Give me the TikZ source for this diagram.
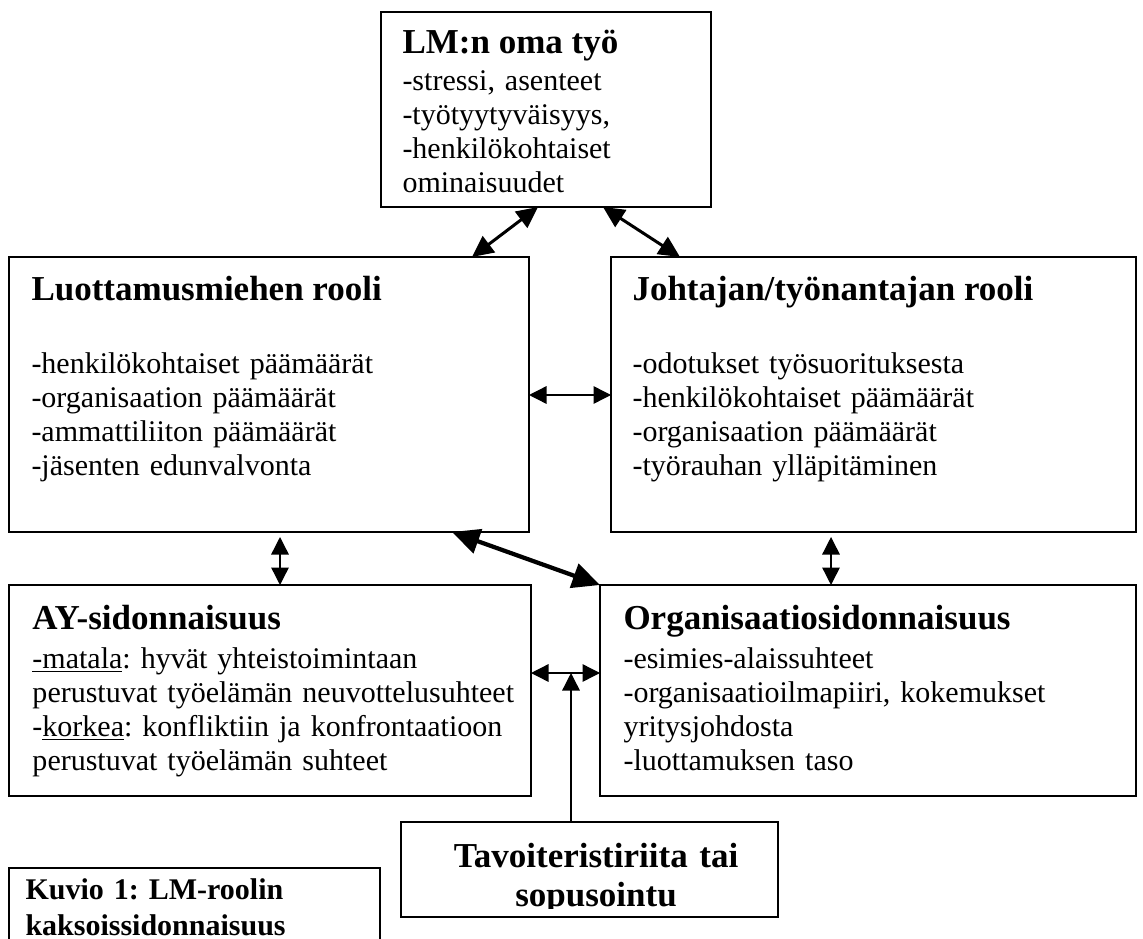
\documentclass[tikz,border=0pt]{standalone}
\usepackage{fontspec}
\setmainfont{Liberation Serif}
\usetikzlibrary{arrows.meta,positioning,calc,fit}
\frenchspacing

\begin{document}
\begin{tikzpicture}[x=0.4pt,y=-0.4pt,
    box/.style={draw,line width=0.65pt,inner sep=0pt,outer sep=0pt},
    head/.style={anchor=base west,inner sep=0pt,font=\fontsize{14}{16}\selectfont\bfseries},
    body/.style={anchor=base west,inner sep=0pt,text width=220pt,align=left,
        font=\fontsize{12}{13.6}\selectfont},
    smallarrow/.style={line width=0.55pt,>={Triangle[length=7pt,width=7pt]},<->},
    uparrow/.style={line width=0.55pt,>={Triangle[length=7pt,width=7pt]},->},
    midarrow/.style={line width=1.2pt,>={Triangle[length=8.5pt,width=8pt]},<->},
    bigarrow/.style={line width=1.7pt,>={Triangle[length=11pt,width=10pt]},<->}]
\useasboundingbox (0,0) rectangle (1143,938);
\clip (0,0) rectangle (1143,938);

% boxes
\node[box,fit={(381,12) (711,207)}] (lm) {};
\node[box,fit={(9,257) (529,532)}] (luot) {};
\node[box,fit={(611,257) (1136,532)}] (joht) {};
\node[box,fit={(9,585) (531,796)}] (ay) {};
\node[box,fit={(600,585) (1136,796)}] (org) {};
\node[box,fit={(401,822) (778,917)}] (tavo) {};
\node[box,fit={(9,868) (380,960)}] (kuvio) {};

% texts
\node[head] (lmhead) at (402,54) {LM:n oma työ};
\node[body] (lmbody) at (402,91) {-stressi, asenteet\\-työtyytyväisyys,\\
    -henkilökohtaiset\\ominaisuudet};

\node[head] (luothead) at (31,301) {Luottamusmiehen rooli};
\node[body] (luotbody) at (31,373) {-henkilökohtaiset päämäärät\\
    -organisaation päämäärät\\-ammattiliiton päämäärät\\-jäsenten edunvalvonta};

\node[head] (johthead) at (632,301) {Johtajan/työnantajan rooli};
\node[body] (johtbody) at (632,373) {-odotukset työsuorituksesta\\
    -henkilökohtaiset päämäärät\\-organisaation päämäärät\\-työrauhan ylläpitäminen};

\node[head] (ayhead) at (32,629) {AY-sidonnaisuus};
\node[body] (aybody) at (32,668) {\underline{-matala}: hyvät yhteistoimintaan\\
    perustuvat työelämän neuvottelusuhteet\\
    -\underline{korkea}: konfliktiin ja konfrontaatioon\\
    perustuvat työelämän suhteet};

\node[head] (orghead) at (623,629) {Organisaatiosidonnaisuus};
\node[body] (orgbody) at (623,668) {-esimies-alaissuhteet\\
    -organisaatioilmapiiri, kokemukset\\yritysjohdosta\\-luottamuksen taso};

\begin{scope}
\clip (401,822) rectangle (778,908);
\node[anchor=base,inner sep=0pt,text width=170pt,align=center,
    font=\fontsize{14}{15.6}\selectfont\bfseries] (tavotext) at (596,867)
    {Tavoiteristiriita tai\\sopusointu};
\end{scope}

\node[anchor=base west,inner sep=0pt,text width=150pt,align=left,
    font=\fontsize{12}{14.4}\selectfont\bfseries] (kuviotext) at (25,899)
    {Kuvio 1: LM-roolin\\kaksoissidonnaisuus};

% connectors
\coordinate (aymid) at ($(ay.north east)+(0,88)$);
\coordinate (tavotop) at ($(tavo.north west)+(170,0)$);
\draw[midarrow] ($(lm.south west)+(157,0)$) -- ($(luot.north west)+(463,0)$);
\draw[midarrow] ($(lm.south west)+(222,0)$) -- ($(joht.north west)+(69,0)$);
\draw[smallarrow] ($(luot.north east)+(0,138)$) -- ($(joht.north west)+(0,138)$);
\draw[smallarrow] ($(luot.south west)+(271,5)$) -- ($(ay.north west)+(271,0)$);
\draw[smallarrow] ($(joht.south west)+(220,5)$) -- ($(org.north west)+(231,0)$);
\draw[bigarrow] ($(luot.south west)+(443,0)$) -- (org.north west);
\draw[smallarrow] (aymid) -- ($(org.north west)+(0,88)$);
\draw[uparrow] (tavotop) -- (tavotop |- aymid);
\end{tikzpicture}
\end{document}
